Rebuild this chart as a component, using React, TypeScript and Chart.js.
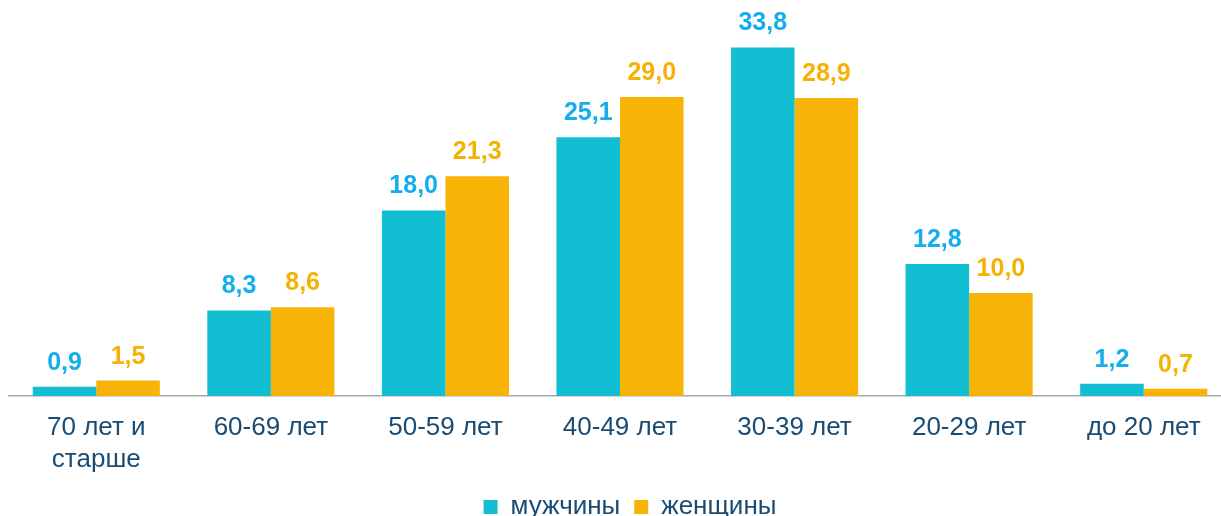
import React, { useEffect, useRef } from "react";
import { Chart, registerables } from "chart.js";

Chart.register(...registerables);

const categories: (string | string[])[] = [
  ["70 лет и", "старше"],
  "60-69 лет",
  "50-59 лет",
  "40-49 лет",
  "30-39 лет",
  "20-29 лет",
  "до 20 лет",
];
const seriesNames = ["мужчины", "женщины"];
const men = [0.9, 8.3, 18.0, 25.1, 33.8, 12.8, 1.2];
const women = [1.5, 8.6, 21.3, 29.0, 28.9, 10.0, 0.7];

const BAR_COLORS = ["#12BED1", "#F8B406"];
const LABEL_COLORS = ["#16ADEE", "#F5B104"];
const TEXT_COLOR = "#1A4B73";
const FONT = "'Liberation Sans', Arial, sans-serif";

const CANVAS_W = 1251;
const CANVAS_H = 530;

const valueLabels = {
  id: "valueLabels",
  afterDatasetsDraw(chart: any) {
    const ctx = chart.ctx;
    ctx.save();
    ctx.font = `bold 25px ${FONT}`;
    ctx.textAlign = "center";
    ctx.textBaseline = "alphabetic";
    chart.data.datasets.forEach((ds: any, di: number) => {
      const meta = chart.getDatasetMeta(di);
      meta.data.forEach((bar: any, i: number) => {
        const v = ds.data[i] as number;
        ctx.fillStyle = LABEL_COLORS[di];
        ctx.fillText(v.toFixed(1).replace(".", ","), bar.x, bar.y - 17);
      });
    });
    ctx.restore();
  },
};

export default function App() {
  const ref = useRef<HTMLCanvasElement>(null);
  useEffect(() => {
    if (!ref.current) return;
    const chart = new Chart(ref.current, {
      type: "bar",
      data: {
        labels: categories,
        datasets: [
          { label: seriesNames[0], data: men, backgroundColor: BAR_COLORS[0] },
          { label: seriesNames[1], data: women, backgroundColor: BAR_COLORS[1] },
        ],
      },
      options: {
        responsive: false,
        animation: false,
        maintainAspectRatio: false,
        layout: { padding: { left: 9, right: 0, top: 0, bottom: 0 } },
        datasets: { bar: { categoryPercentage: 0.728, barPercentage: 1 } },
        scales: {
          x: {
            grid: { display: false, drawTicks: false },
            border: { display: true, color: "#A6A6A6", width: 1.5 },
            ticks: {
              color: TEXT_COLOR,
              font: { family: FONT, size: 26, lineHeight: 1.23 },
              padding: 16,
              maxRotation: 0,
              autoSkip: false,
            },
            afterFit: (scale: any) => {
              scale.height = 84;
            },
          },
          y: {
            position: "right",
            min: 0,
            max: 38.4,
            display: true,
            grid: { display: false, drawTicks: false },
            border: { display: false },
            ticks: { display: false },
            afterFit: (scale: any) => {
              scale.width = 20;
            },
          },
        },
        plugins: {
          legend: {
            position: "bottom",
            labels: {
              color: TEXT_COLOR,
              font: { family: FONT, size: 26 },
              boxWidth: 14,
              boxHeight: 14,
              padding: 14,
            },
          },
          tooltip: { enabled: false },
        },
      },
      plugins: [valueLabels],
    });
    return () => chart.destroy();
  }, []);
  return (
    <div
      style={{
        position: "absolute",
        left: 0,
        top: 0,
        width: 1221,
        height: 516,
        overflow: "hidden",
        background: "#fff",
      }}
    >
      <canvas
        ref={ref}
        width={CANVAS_W}
        height={CANVAS_H}
        style={{ width: CANVAS_W, height: CANVAS_H, display: "block" }}
      />
    </div>
  );
}
